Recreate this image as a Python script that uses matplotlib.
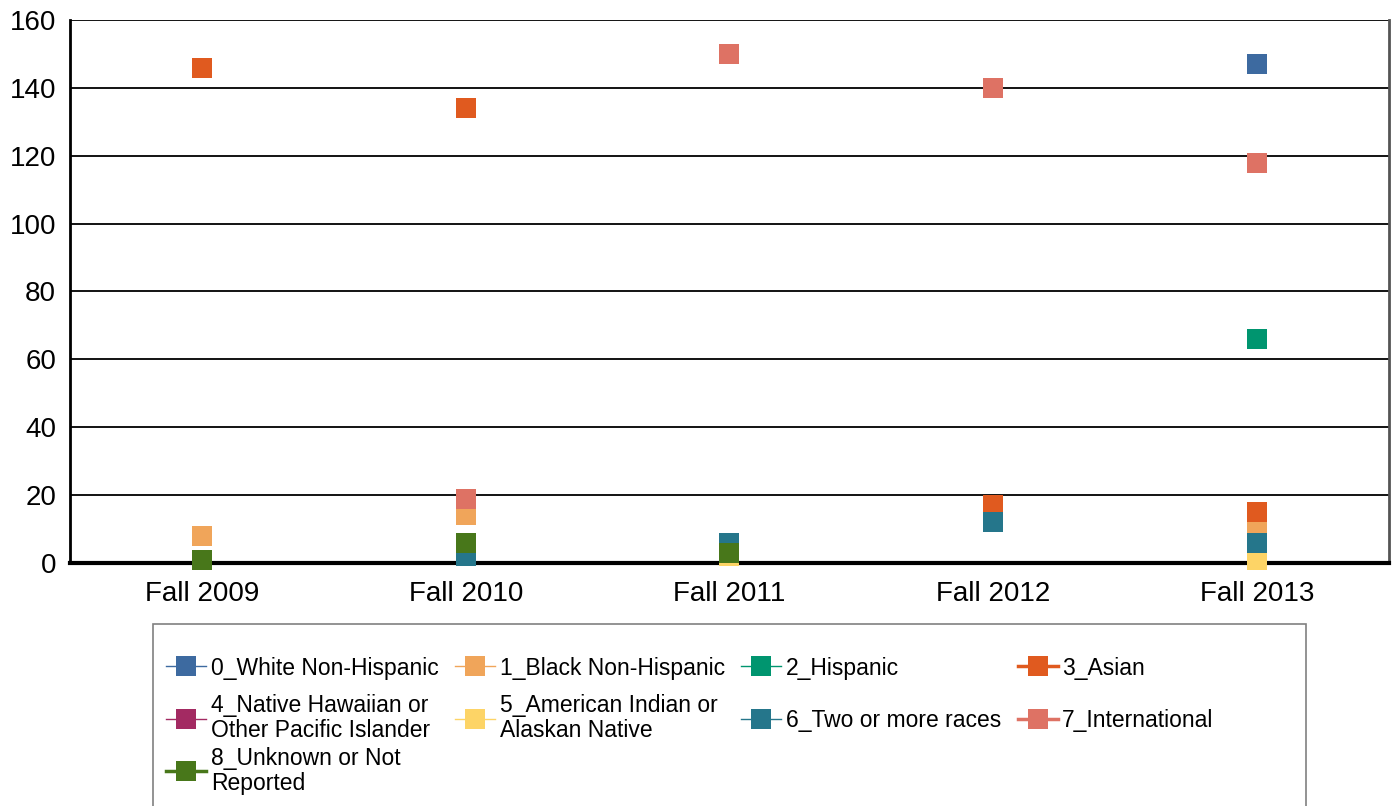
import numpy as np
import matplotlib
matplotlib.use("Agg")
import matplotlib.pyplot as plt
from matplotlib.lines import Line2D
from matplotlib.patches import Rectangle
from matplotlib.legend_handler import HandlerLine2D

plt.rcParams['font.family'] = ['Liberation Sans', 'DejaVu Sans']

# Data (nan = no point drawn)
terms = ["Fall 2009", "Fall 2010", "Fall 2011", "Fall 2012", "Fall 2013"]
groups = ["0_White Non-Hispanic", "1_Black Non-Hispanic", "2_Hispanic", "3_Asian",
          "4_Native Hawaiian or\nOther Pacific Islander", "5_American Indian or\nAlaskan Native",
          "6_Two or more races", "7_International", "8_Unknown or Not\nReported"]
nan = np.nan
white = [nan, nan, nan, nan, 147]
black = [8, 14, nan, nan, 11]
hispanic = [nan, nan, nan, nan, 66]
asian = [146, 134, nan, 17, 15]
hawaiian = [nan, nan, nan, nan, nan]
amer_indian = [nan, nan, 2, nan, 1]
two_more = [nan, 2, 6, 12, 6]
international = [nan, 19, 150, 140, 118]
unknown = [1, 6, 3, nan, nan]
yticks = [0, 20, 40, 60, 80, 100, 120, 140, 160]

series = [white, black, hispanic, asian, hawaiian, amer_indian, two_more, international, unknown]
colors = ["#3D6AA0", "#F0A55A", "#00956F", "#E05A1F", "#A32A62",
          "#FDD466", "#25768B", "#DE7264", "#48771A"]
leg_lw = [1, 1, 1, 2.5, 1, 1, 1, 2.5, 2.5]


# tall legend boxes keep rows aligned across columns; move the symbol back
# down so it sits on the middle of the text
class LowHandler(HandlerLine2D):
    def create_artists(self, legend, orig_handle, xdescent, ydescent,
                       width, height, fontsize, trans):
        arts = super().create_artists(legend, orig_handle, xdescent, ydescent,
                                      width, height, fontsize, trans)
        for a in arts:
            a.set_ydata(np.asarray(a.get_ydata()) - 0.4 * fontsize)
        return arts


fig = plt.figure(figsize=(13.92, 8.06), dpi=100)
ax = fig.add_axes([0.0503, 0.3015, 0.9475, 0.6737])

x = np.arange(len(terms))
for vals, c in zip(series, colors):
    ax.plot(x, vals, linestyle="none", marker="s", markersize=15,
            color=c, markeredgewidth=0, clip_on=False, zorder=3)

ax.set_xlim(-0.5, len(terms) - 0.5)
ax.set_ylim(0, 160)
ax.set_yticks(yticks)
ax.set_xticks(x)
ax.set_xticklabels(terms)
ax.tick_params(axis="both", length=0, labelsize=20)
ax.tick_params(axis="y", pad=10)
ax.tick_params(axis="x", pad=13)
ax.yaxis.grid(True, color="black", linewidth=1.3)
ax.set_axisbelow(True)
ax.spines["top"].set_visible(False)
ax.spines["right"].set_color("#555555")
ax.spines["right"].set_linewidth(2)
ax.spines["left"].set_linewidth(2)
ax.spines["bottom"].set_linewidth(3)

# legend, filled row by row like the original
handles = [Line2D([0], [0], color=c, lw=lw, marker="s", markersize=15, markeredgewidth=0)
           for c, lw in zip(colors, leg_lw)]
order = [0, 4, 8, 1, 5, 2, 6, 3, 7]
leg = fig.legend([handles[i] for i in order], [groups[i] for i in order],
                 ncol=4, loc="upper left", bbox_to_anchor=(0.111, 0.2214),
                 frameon=False, fontsize=16.5, handlelength=1.75, handletextpad=0.2,
                 columnspacing=0.72, handleheight=3.6, labelspacing=-0.3,
                 borderpad=0, handler_map={Line2D: LowHandler()})
for t in leg.get_texts():
    t.set_linespacing(1.1)

fig.patches.append(Rectangle((153 / 1392, -0.05), (1306 - 153) / 1392, 1 - 624 / 806 + 0.05,
                             transform=fig.transFigure, fill=False,
                             edgecolor="#808080", linewidth=1.2))

fig.savefig("out.png", dpi=100)
